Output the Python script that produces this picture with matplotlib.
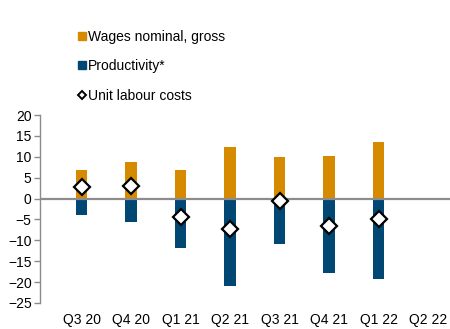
import matplotlib
matplotlib.use("Agg")
import numpy as np
from matplotlib import pyplot as plt
from matplotlib.lines import Line2D

plt.rcParams['font.family'] = ['Liberation Sans', 'DejaVu Sans']

quarters = ["Q3 20", "Q4 20", "Q1 21", "Q2 21", "Q3 21", "Q4 21", "Q1 22", "Q2 22"]
wages = [6.9, 8.8, 6.9, 12.3, 10.0, 10.2, 13.5, np.nan]
productivity = [-3.9, -5.5, -11.9, -21.0, -10.8, -17.8, -19.2, np.nan]
ulc = [2.7, 3.0, -4.5, -7.3, -0.7, -6.5, -4.8, np.nan]

orange = "#D68A00"
blue = "#004873"
grey = "#8C8C8C"

fig = plt.figure(figsize=(4.5, 3.29), dpi=100)
ax = fig.add_axes([40 / 450, 26 / 329, 410 / 450, 188 / 329])

x = np.arange(len(quarters))
ax.bar(x, wages, width=0.23, color=orange, zorder=2)
ax.bar(x, productivity, width=0.23, color=blue, zorder=2)
ax.axhline(0, color=grey, lw=1.6, zorder=3)
ax.plot(x, ulc, ls="none", marker="D", ms=8, mfc="white", mec="black",
        mew=1.6, zorder=4)

ax.set_xlim(-0.84, 7.44)
ax.set_ylim(-25, 20)
ax.set_yticks(np.arange(-25, 21, 5))
ax.set_xticks(x)
ax.set_xticklabels(quarters)
ax.tick_params(axis="x", length=0, pad=7, labelsize=10)
ax.tick_params(axis="y", length=4, width=1, color=grey, labelsize=10, pad=2)
for s in ["top", "right", "bottom"]:
    ax.spines[s].set_visible(False)
ax.spines["left"].set_color(grey)
ax.spines["left"].set_linewidth(1)

# legend on top
handles = [
    Line2D([], [], ls="none", marker="s", ms=5.5, mfc=orange, mec=orange),
    Line2D([], [], ls="none", marker="s", ms=5.5, mfc=blue, mec=blue),
    Line2D([], [], ls="none", marker="D", ms=4, mfc="white", mec="black", mew=1.4),
]
labels = ["Wages nominal, gross", "Productivity*", "Unit labour costs"]
fig.legend(handles, labels, loc="upper left", bbox_to_anchor=(72 / 450, 1 - 24 / 329),
           frameon=False, fontsize=10, handlelength=0.6, handletextpad=0.15,
           labelspacing=1.12, borderaxespad=0)

fig.savefig("out.png", dpi=100)
